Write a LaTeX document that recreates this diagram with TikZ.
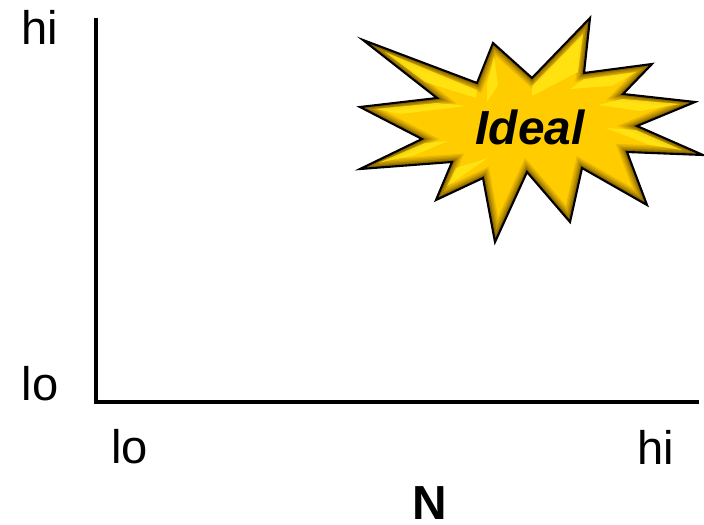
\documentclass[tikz,border=0pt]{standalone}
\usepackage{fontspec}
\setmainfont{Liberation Sans}
\usepackage{xcolor}
\definecolor{burstgold}{RGB}{255,204,0}
\definecolor{burstdark}{RGB}{120,85,0}
\definecolor{burstlight}{RGB}{255,232,20}
\newcommand{\burstoutline}{(363,40) -- (477,83) -- (493,43) -- (532,78) -- (590,18) -- (584,73)
  -- (652,64) -- (623,94) -- (695,102) -- (637,126) -- (703,155) -- (627,152)
  -- (647,205) -- (582,168) -- (570,222) -- (527,172) -- (495,242) -- (483,178)
  -- (436,200) -- (452,162) -- (360,169) -- (422,139) -- (360,107) -- (437,98) -- cycle}

\begin{document}
\begin{tikzpicture}[
  x=0.025cm,y=-0.025cm,
  axislabel/.style={font=\fontsize{33.5}{34}\selectfont,inner sep=0pt},
  axisline/.style={draw=black,line width=2.6pt,line join=miter},
  glint/.style={fill=burstlight,draw=none,opacity=0.8},
  ideallabel/.style={font=\fontsize{34}{34}\selectfont\bfseries\itshape,inner sep=0pt}
]
  \useasboundingbox (0,0) rectangle (704,525);

  % Axes
  \coordinate (ytop) at (96,18);
  \coordinate (origin) at (96,402);
  \coordinate (xend) at (699,402);
  \draw[axisline] (ytop) -- (origin) -- (xend);

  % Axis labels
  \node[axislabel] (yhi) at (39.5,27)  {hi};
  \node[axislabel] (ylo) at (40,384)   {lo};
  \node[axislabel] (xlo) at (129.5,447) {lo};
  \node[axislabel] (xhi) at (656,447)  {hi};
  \node[font=\fontsize{34}{34}\selectfont\bfseries,inner sep=0pt] (xname) at (430,503) {N};

  % Burst
  \begin{scope}
    \clip \burstoutline;
    \fill[burstgold] \burstoutline;
    \foreach \w/\m in {11/15,9/30,7/45,5/65,3/85}
      \draw[burstdark!\m!burstgold,line width=\w pt,line join=miter] \burstoutline;
    % Highlights
    \fill[glint] (385,52) -- (477,90) -- (476,98) -- (425,82) -- cycle;
    \fill[glint] (375,109) -- (437,103) -- (467,106) -- (400,114) -- cycle;
    \fill[glint] (378,163) -- (425,143) -- (448,141) -- (415,155) -- cycle;
    \fill[glint] (494,56) -- (498,85) -- (487,102) -- (487,85) -- cycle;
    \fill[glint] (583,34) -- (578,72) -- (532,96) -- (532,86) -- cycle;
    \fill[glint] (636,72) -- (612,86) -- (570,89) -- (584,79) -- cycle;
    \fill[glint] (680,104) -- (622,99) -- (598,105) -- (640,111) -- cycle;
    \fill[glint] (682,150) -- (636,130) -- (606,128) -- (650,145) -- cycle;
    \fill[glint] (456,168) -- (447,186) -- (462,176) -- (488,158) -- cycle;
  \end{scope}
  \draw[black,line width=1.5pt,line join=miter] \burstoutline;
  \node[ideallabel] (ideal) at (530,127) {Ideal};
\end{tikzpicture}
\end{document}
